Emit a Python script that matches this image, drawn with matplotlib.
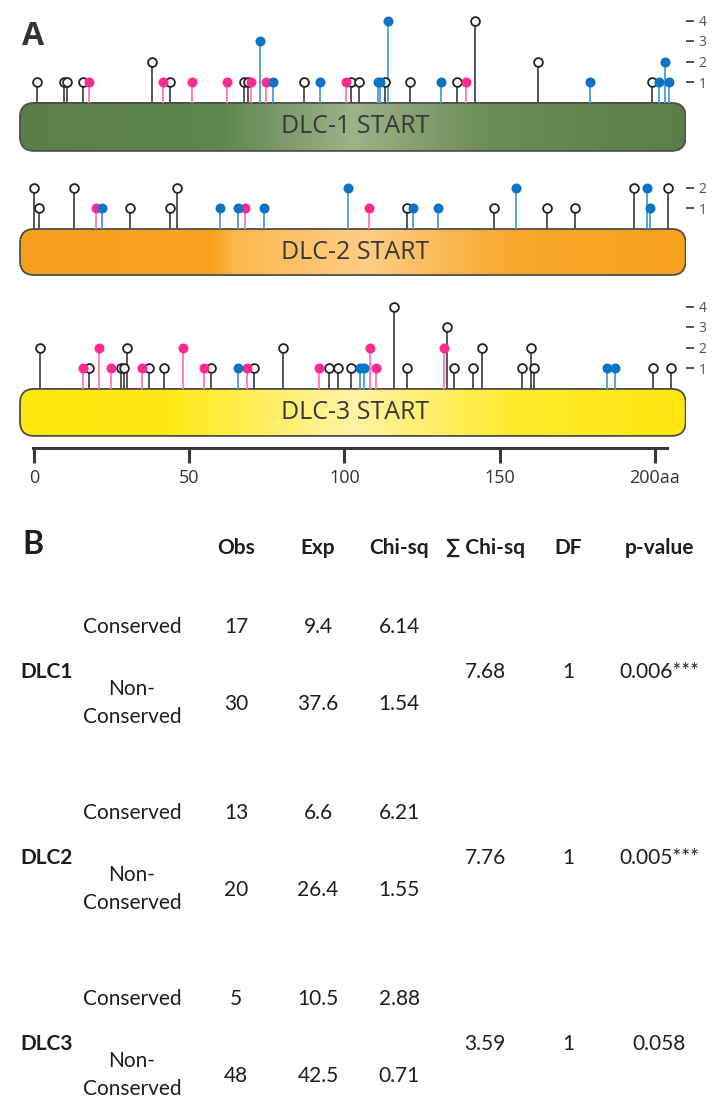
import numpy as np
import matplotlib
matplotlib.use('Agg')
import matplotlib.pyplot as plt
from matplotlib.patches import FancyBboxPatch
from matplotlib.colors import LinearSegmentedColormap

# ---- Panel A data: residue position (aa) and stack level of each lollipop ----
dlc1_open_pos = [1, 9.7, 10.7, 15.7, 38.1, 43.8, 67.8, 68.8, 87, 102, 104.8, 113, 121, 136.2, 142.2, 162.3, 199.1]
dlc1_open_lvl = [1, 1, 1, 1, 2, 1, 1, 1, 1, 1, 1, 1, 1, 1, 4, 2, 1]
dlc1_pink_pos = [17.8, 41.7, 50.9, 62.1, 69.8, 74.7, 100.6, 139.2]
dlc1_pink_lvl = [1, 1, 1, 1, 1, 1, 1, 1]
dlc1_blue_pos = [72.8, 77.1, 92.1, 110.7, 111.6, 114.2, 131, 179.2, 201.4, 203.3, 204.7]
dlc1_blue_lvl = [3, 1, 1, 1, 1, 4, 1, 1, 1, 2, 1]

dlc2_open_pos = [0, 1.7, 12.8, 30.9, 43.8, 46, 120.1, 148.2, 165.3, 174.2, 193.3, 204.4]
dlc2_open_lvl = [2, 1, 2, 1, 1, 2, 1, 1, 1, 1, 2, 2]
dlc2_pink_pos = [19.9, 68, 108]
dlc2_pink_lvl = [1, 1, 1]
dlc2_blue_pos = [21.8, 59.9, 65.8, 74.1, 101.1, 122, 130.1, 155.3, 197.4, 198.5]
dlc2_blue_lvl = [1, 1, 1, 1, 2, 1, 1, 2, 2, 1]

dlc3_open_pos = [1.9, 17.8, 27.9, 29, 29.9, 37, 41.8, 56.9, 71, 80.1, 95, 98, 102, 116.1,
                 120.2, 133.1, 135.3, 141.3, 144.4, 157.3, 160.1, 161.1, 199.3, 205.2]
dlc3_open_lvl = [2, 1, 1, 1, 2, 1, 1, 1, 1, 2, 1, 1, 1, 4, 1, 3, 1, 1, 2, 1, 2, 1, 1, 1]
dlc3_pink_pos = [15.7, 20.8, 24.8, 34.9, 47.9, 54.8, 68.7, 91.9, 108.1, 110.1, 132.1]
dlc3_pink_lvl = [1, 2, 1, 1, 2, 1, 1, 1, 2, 1, 2]
dlc3_blue_pos = [65.8, 104.9, 106.3, 184.5, 187.2]
dlc3_blue_lvl = [1, 1, 1, 1, 1]

bar_names = ['DLC-1 START', 'DLC-2 START', 'DLC-3 START']
level_ticks = [[1, 2, 3, 4], [1, 2], [1, 2, 3, 4]]
ruler_ticks = [0, 50, 100, 150, 200]
ruler_labels = ['0', '50', '100', '150', '200aa']

# ---- Panel B data ----
genes = ['DLC1', 'DLC2', 'DLC3']
obs_cons = [17, 13, 5]
obs_non = [30, 20, 48]
exp_cons = [9.4, 6.6, 10.5]
exp_non = [37.6, 26.4, 42.5]
chi_cons = [6.14, 6.21, 2.88]
chi_non = [1.54, 1.55, 0.71]
chi_sum = [7.68, 7.76, 3.59]
dof = [1, 1, 1]
pvals = ['0.006***', '0.005***', '0.058']
headers = ['Obs', 'Exp', 'Chi-sq', '\u2211 Chi-sq', 'DF', 'p-value']

W, H = 720, 1112
fig = plt.figure(figsize=(W / 100, H / 100), dpi=100)
fig.patch.set_facecolor('white')

PX_AA = 3.104   # pixels per residue
AA0 = 34        # pixel column of residue 0
PX_LVL = 20.5   # pixels per stack level
AX_RIGHT = 686

xmin = (0 - AA0) / PX_AA
xmax = (AX_RIGHT - AA0) / PX_AA
bar_x0 = (20 - AA0) / PX_AA
bar_x1 = xmax - 0.1

# (axes top px, axes bottom px, level-0 px, bar height px)
panel_geom = [(0, 155, 102.5, 48), (155, 285, 228.6, 46), (285, 440, 388.5, 47)]

grad_stops = [
    [(0.0, '#5a7e46'), (0.3, '#5f8650'), (0.5, '#9cb289'), (0.7, '#6b8d58'), (1.0, '#5a7e47')],
    [(0.0, '#f7a01e'), (0.29, '#f8a21f'), (0.32, '#fdb84c'), (0.52, '#fecd84'), (0.74, '#f9a82c'), (1.0, '#f8a11e')],
    [(0.0, '#ffe70e'), (0.22, '#ffe814'), (0.5, '#fff4a6'), (0.74, '#ffea2c'), (1.0, '#ffe70e')],
]

panels = [
    (dlc1_open_pos, dlc1_open_lvl, dlc1_pink_pos, dlc1_pink_lvl, dlc1_blue_pos, dlc1_blue_lvl),
    (dlc2_open_pos, dlc2_open_lvl, dlc2_pink_pos, dlc2_pink_lvl, dlc2_blue_pos, dlc2_blue_lvl),
    (dlc3_open_pos, dlc3_open_lvl, dlc3_pink_pos, dlc3_pink_lvl, dlc3_blue_pos, dlc3_blue_lvl),
]

pink_head, pink_stem = '#ff2a8e', '#ff80b8'
blue_head, blue_stem = '#0b74c4', '#5aa2dc'
open_stem = '#4a4a4a'

for i, (top, bot, lvl0, bar_h) in enumerate(panel_geom):
    ax = fig.add_axes([0, 1 - bot / H, AX_RIGHT / W, (bot - top) / H])
    ax.set_xlim(xmin, xmax)
    ax.set_ylim((lvl0 - bot) / PX_LVL, (lvl0 - top) / PX_LVL)
    for s in ax.spines.values():
        s.set_visible(False)
    ax.set_xticks([])
    ax.yaxis.tick_right()
    ax.set_yticks(level_ticks[i])
    ax.tick_params(axis='y', length=6, width=1.4, color='#555555', labelsize=10,
                   labelcolor='#555555', pad=3)
    for lab in ax.get_yticklabels():
        lab.set_fontfamily('Open Sans')

    # protein bar with horizontal gradient
    y1 = -0.02
    y0 = y1 - bar_h / PX_LVL
    aspect = PX_AA / PX_LVL
    patch = FancyBboxPatch((bar_x0, y0), bar_x1 - bar_x0, y1 - y0,
                           boxstyle='round,pad=0,rounding_size=4.6', mutation_aspect=aspect,
                           facecolor='none', edgecolor='#4d4d4d', lw=1.3, zorder=2)
    cmap = LinearSegmentedColormap.from_list('g%d' % i, grad_stops[i])
    grad = np.linspace(0, 1, 400).reshape(1, -1)
    im = ax.imshow(grad, cmap=cmap, extent=[bar_x0, bar_x1, y0, y1], aspect='auto',
                   interpolation='bilinear', zorder=1)
    ax.add_patch(patch)
    im.set_clip_path(patch)
    ax.text((355 - AA0) / PX_AA, (y0 + y1) / 2, bar_names[i], ha='center', va='center',
            fontsize=18, color='#383838', family='Open Sans', zorder=3)

    op, ol, pp, pl, bp, bl = panels[i]
    ax.vlines(op, 0, ol, color=open_stem, lw=1.3, zorder=2)
    ax.vlines(pp, 0, pl, color=pink_stem, lw=1.4, zorder=2)
    ax.vlines(bp, 0, bl, color=blue_stem, lw=1.4, zorder=2)
    ax.scatter(op, ol, s=40, facecolor='white', edgecolor='#222222', linewidths=1.3, zorder=4)
    ax.scatter(pp, pl, s=52, color=pink_head, linewidths=0, zorder=4)
    ax.scatter(bp, bl, s=52, color=blue_head, linewidths=0, zorder=4)

# residue ruler
axr = fig.add_axes([0, 1 - 448 / H, AX_RIGHT / W, 0.0005])
axr.set_xlim(xmin, xmax)
axr.set_yticks([])
for k in ['top', 'left', 'right']:
    axr.spines[k].set_visible(False)
axr.spines['bottom'].set_bounds(-0.3, (667 - AA0) / PX_AA)
axr.spines['bottom'].set_linewidth(2.2)
axr.spines['bottom'].set_color('#3a3a3a')
axr.patch.set_visible(False)
axr.set_xticks(ruler_ticks)
axr.set_xticklabels(ruler_labels, family='Open Sans')
axr.tick_params(axis='x', length=11, width=2.2, color='#3a3a3a', labelsize=13,
                labelcolor='#333333', pad=4)

fig.text(22 / W, 1 - 45 / H, 'A', fontsize=23, fontweight='bold', color='#333333',
         family='Open Sans', ha='left', va='baseline')

# ---- Panel B: chi-square table ----
axt = fig.add_axes([0, 0, 1, 612 / H])
axt.set_xlim(0, W)
axt.set_ylim(H, 500)
axt.axis('off')

tfont = ['Lato', 'DejaVu Sans']
col_x = [236, 318, 399, 485, 568, 659]
txt = dict(ha='center', va='center', fontsize=15, color='#1e1e1e', family=tfont)

axt.text(22, 545, 'B', ha='left', va='center', fontsize=23, fontweight='bold',
         color='#1e1e1e', family=tfont)
for x, h in zip(col_x, headers):
    axt.text(x, 548, h, fontweight='bold', **txt)

for g in range(len(genes)):
    yc = 627 + 186 * g
    yg = 672 + 186 * g
    yn = 704 + 186 * g
    axt.text(132, yc, 'Conserved', **txt)
    axt.text(132, yn - 15, 'Non-', **txt)
    axt.text(132, yn + 13, 'Conserved', **txt)
    axt.text(20, yg, genes[g], ha='left', va='center', fontsize=15, fontweight='bold',
             color='#1e1e1e', family=tfont)
    axt.text(col_x[0], yc, str(obs_cons[g]), **txt)
    axt.text(col_x[1], yc, '%.1f' % exp_cons[g], **txt)
    axt.text(col_x[2], yc, '%.2f' % chi_cons[g], **txt)
    axt.text(col_x[0], yn, str(obs_non[g]), **txt)
    axt.text(col_x[1], yn, '%.1f' % exp_non[g], **txt)
    axt.text(col_x[2], yn, '%.2f' % chi_non[g], **txt)
    axt.text(col_x[3], yg, '%.2f' % chi_sum[g], **txt)
    axt.text(col_x[4], yg, str(dof[g]), **txt)
    axt.text(col_x[5], yg, pvals[g], **txt)

fig.savefig('out.png', dpi=100, facecolor='white')
